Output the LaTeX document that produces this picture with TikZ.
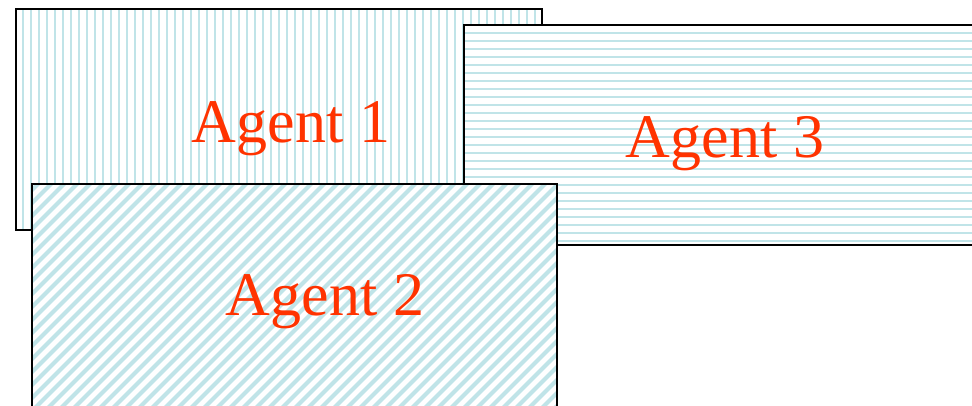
\documentclass[tikz,border=0pt]{standalone}
\usepackage{fontspec}
\setmainfont{Liberation Serif}
\definecolor{stripe}{RGB}{192,228,232}
\definecolor{agentred}{RGB}{255,51,0}
\tikzset{
  stripeline/.style={draw=stripe, line width=2pt},
  diagline/.style={draw=stripe, line width=4pt},
  boxborder/.style={draw=black, line width=2.2pt},
  agentlabel/.style={text=agentred, font=\fontsize{62}{62}\selectfont, inner sep=0pt, anchor=base}
}
\begin{document}
\begin{tikzpicture}[x=1pt,y=-1pt]
\useasboundingbox (0,0) rectangle (972,405);
% Agent 1
\fill[white] (16,9) rectangle (542,230);
\begin{scope}
  \clip (16,9) rectangle (542,230);
  \foreach \k in {0,...,66} {\draw[stripeline] (23+8*\k,0) -- (23+8*\k,240);}
\end{scope}
\draw[boxborder] (16,9) rectangle (542,230);
\node[agentlabel] (a1) at (291,142) {Agent 1};
% Agent 3
\fill[white] (464,25) rectangle (990,245);
\begin{scope}
  \clip (464,25) rectangle (980,245);
  \foreach \k in {0,...,28} {\draw[stripeline] (450,32.7+8*\k) -- (990,32.7+8*\k);}
\end{scope}
\draw[boxborder] (990,25) -- (464,25) -- (464,245) -- (990,245);
\node[agentlabel] (a3) at (725,157) {Agent 3};
% Agent 2
\fill[white] (32,184) rectangle (557,420);
\begin{scope}
  \clip (32,184) rectangle (557,420);
  \foreach \k in {-20,...,44} {\draw[diagline] (13*\k,430) -- (13*\k+260,170);}
\end{scope}
\draw[boxborder] (32,420) -- (32,184) -- (557,184) -- (557,420);
\node[agentlabel] (a2) at (325,315) {Agent 2};
\end{tikzpicture}
\end{document}
